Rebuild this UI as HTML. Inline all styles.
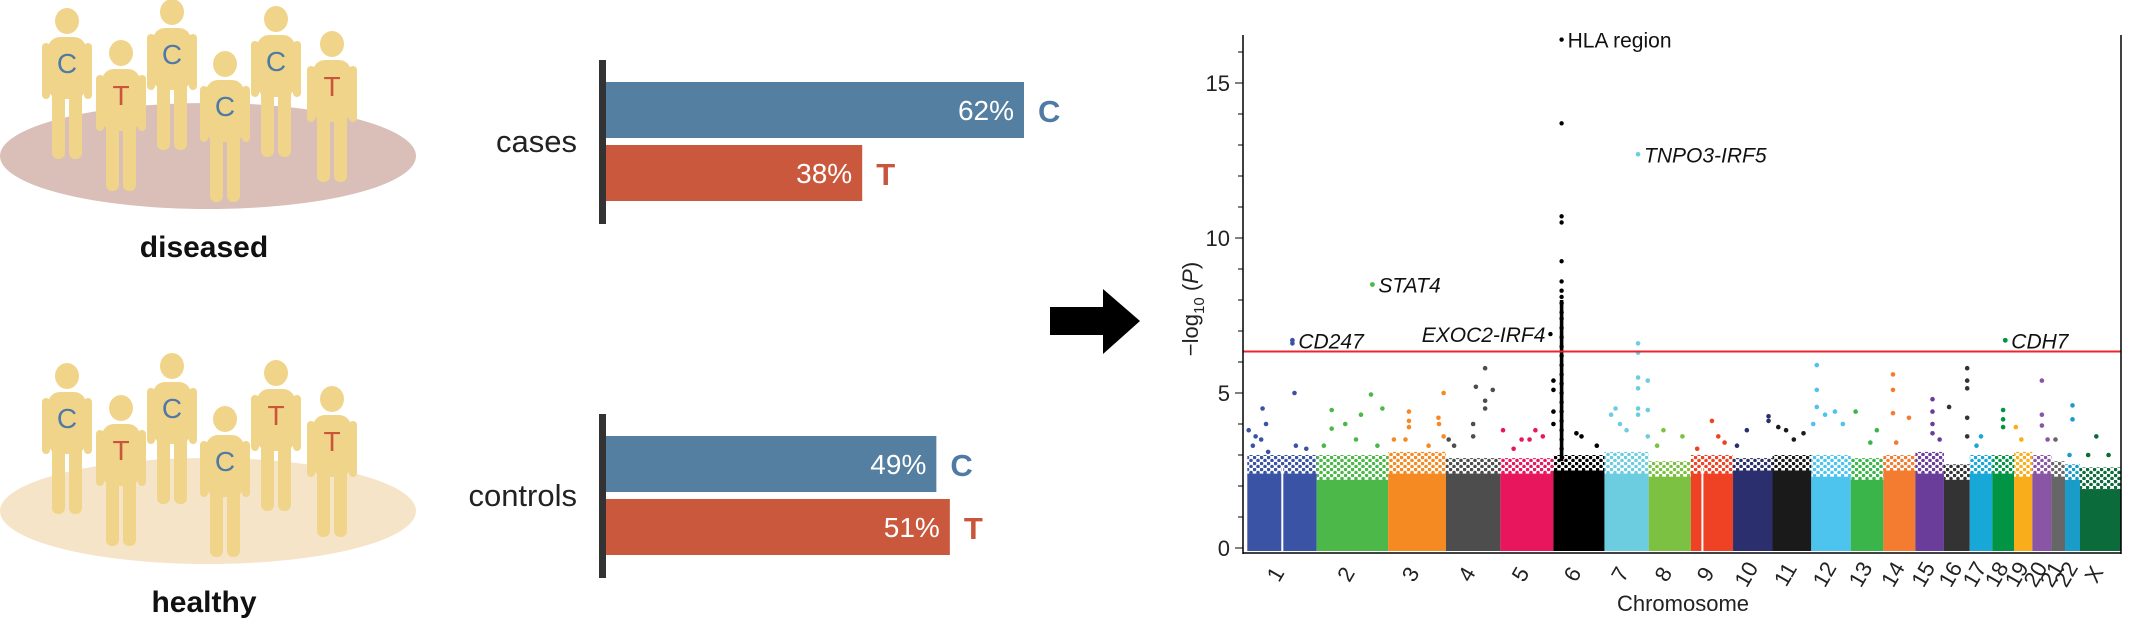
<!DOCTYPE html>
<html><head><meta charset="utf-8">
<style>
html,body{margin:0;padding:0;background:#fff;}
body{width:2130px;height:643px;overflow:hidden;position:relative;font-family:"Liberation Sans",sans-serif;}
svg{position:absolute;left:0;top:0;}
</style></head>
<body>
<svg id="fig" width="2130" height="643" viewBox="0 0 2130 643" xmlns="http://www.w3.org/2000/svg">
  <defs id="defs"></defs>
  <g id="people"></g>
  <text x="204" y="257" font-size="30" font-weight="bold" text-anchor="middle" fill="#111">diseased</text>
  <text x="204" y="612" font-size="30" font-weight="bold" text-anchor="middle" fill="#111">healthy</text>
  <g id="bars"></g>
  <g>
    <path d="M1050,307 H1103 V289 L1140,321 L1103,354 V335 H1050 Z" fill="#000"/>
  </g>
  <g id="manhattan"></g>
</svg>
<script>
// ---------- allele bar data ----------
const groups = ['cases','controls'];
const alleleC = [62, 49];
const alleleT = [38, 51];

// ---------- manhattan data ----------
const chromosomes = ['1','2','3','4','5','6','7','8','9','10','11','12','13','14','15','16','17','18','19','20','21','22','X'];
const chromLengths = [102,105,85,80,78,75,65,62,62,58,57,58,48,47,42,38,33,32,27,28,20,22,60];
const chromColors = ['#3a53a4','#4cb849','#f58a22','#4d4d4d','#e8175d','#000000','#6dcde0','#7dc143','#ef4123','#2b2f6e','#1a1a1a','#4cc4ee','#3ab54a','#f47c30','#6a3d9a','#333333','#18a8d8','#009444','#f9ad1b','#8a55a5','#666666','#1a9cc9','#0b6b3a'];
const solidTop = [2.4,2.2,2.4,2.4,2.4,2.5,2.4,2.3,2.4,2.5,2.5,2.3,2.2,2.5,2.4,2.2,2.4,2.4,2.3,2.4,2.3,2.2,1.9];
const fringeTop = [3.0,3.0,3.1,2.9,2.9,3.0,3.1,2.8,3.0,2.9,3.0,3.0,2.9,3.0,3.1,2.7,3.0,3.0,3.1,3.0,2.8,2.7,2.6];
// scatter points above the dense body: [chromosome index, fraction along chromosome, -log10 P]
const peakPoints = [
 [0,0.02,3.8],[0,0.12,3.6],[0,0.22,4.5],[0,0.27,4.0],[0,0.20,3.5],[0,0.65,6.6],[0,0.68,5.0],[0,0.70,3.3],[0,0.85,3.2],[0,0.30,3.1],[0,0.08,3.3],
 [1,0.21,4.45],[1,0.21,3.85],[1,0.40,4.0],[1,0.62,4.3],[1,0.76,4.95],[1,0.92,4.5],[1,0.55,3.5],[1,0.85,3.3],[1,0.10,3.3],
 [2,0.36,4.4],[2,0.36,4.1],[2,0.36,3.9],[2,0.30,3.5],[2,0.87,4.2],[2,0.88,4.0],[2,0.96,5.0],[2,0.96,3.6],[2,0.10,3.5],[2,0.70,3.3],
 [3,0.55,5.2],[3,0.72,5.8],[3,0.72,4.75],[3,0.72,4.5],[3,0.86,5.1],[3,0.50,4.0],[3,0.50,3.6],[3,0.05,3.5],[3,0.15,3.3],
 [4,0.05,3.8],[4,0.40,3.5],[4,0.55,3.5],[4,0.66,3.8],[4,0.80,3.6],[4,0.25,3.2],
 [5,0.00,5.4],[5,0.00,5.1],[5,0.00,4.4],[5,0.00,4.0],[5,0.45,3.7],[5,0.55,3.6],[5,0.85,3.3],
 [6,0.15,4.3],[6,0.25,4.5],[6,0.35,4.0],[6,0.50,3.8],[6,0.76,6.6],[6,0.76,6.3],[6,0.76,5.5],[6,0.76,5.15],[6,0.76,4.5],[6,0.76,4.3],[6,0.98,5.4],[6,0.98,4.45],[6,0.98,3.6],[6,0.76,12.7],
 [7,0.35,3.8],[7,0.80,3.6],[7,0.20,3.3],
 [8,0.50,4.1],[8,0.65,3.6],[8,0.80,3.4],[8,0.15,3.2],
 [9,0.10,3.3],[9,0.35,3.8],[9,0.90,4.25],[9,0.90,4.1],
 [10,0.15,3.9],[10,0.35,3.8],[10,0.80,3.7],[10,0.55,3.5],
 [11,0.14,5.9],[11,0.14,5.1],[11,0.14,4.55],[11,0.35,4.3],[11,0.60,4.4],[11,0.80,4.0],[11,0.05,4.0],
 [12,0.15,4.4],[12,0.80,3.8],[12,0.60,3.4],
 [13,0.30,5.6],[13,0.30,5.1],[13,0.30,4.35],[13,0.80,4.2],[13,0.40,3.4],
 [14,0.60,4.8],[14,0.60,4.4],[14,0.60,4.0],[14,0.60,3.7],[14,0.85,3.5],
 [15,0.20,4.55],[15,0.90,5.8],[15,0.90,5.4],[15,0.90,5.15],[15,0.90,4.2],[15,0.90,3.6],
 [16,0.30,3.3],[16,0.50,3.6],
 [17,0.60,6.7],[17,0.50,4.45],[17,0.50,4.15],[17,0.50,3.9],
 [18,0.10,3.9],[18,0.40,3.5],
 [19,0.50,5.4],[19,0.50,4.3],[19,0.50,3.95],[19,0.80,3.5],
 [20,0.30,3.5],
 [21,0.50,4.6],[21,0.50,4.15],[21,0.30,3.0],
 [22,0.40,3.6],[22,0.20,3.0],[22,0.70,3.0]
];
// HLA column on chromosome 6 (index 5)
const hlaColumn = [3.2,3.5,3.8,4.1,4.4,4.7,5.0,5.3,5.6,5.9,6.2,6.5,6.8,7.1,7.4,7.6,7.9,8.1,8.3,8.6,9.25,10.5,10.7,13.7,16.4];
const yTicks = [0,5,10,15];
const threshold = 6.34;
const annotations = [
 {text:'HLA region', chr:5, frac:0.16, val:16.4, italic:false, anchor:'start'},
 {text:'TNPO3-IRF5', chr:6, frac:0.76, val:12.7, italic:true, anchor:'start'},
 {text:'STAT4', chr:1, frac:0.78, val:8.5, italic:true, anchor:'start'},
 {text:'CD247', chr:0, frac:0.65, val:6.7, italic:true, anchor:'start'},
 {text:'EXOC2-IRF4', chr:5, frac:0.00, val:6.9, italic:true, anchor:'end'},
 {text:'CDH7', chr:17, frac:0.60, val:6.7, italic:true, anchor:'start'}
];

const NS='http://www.w3.org/2000/svg';
function mk(tag, attrs, parent){const e=document.createElementNS(NS,tag);for(const k in attrs)e.setAttribute(k,attrs[k]);parent.appendChild(e);return e;}

// ---------- people ----------
const peopleG=document.getElementById('people');
function drawGroup(cy, heads, letters, ellColor, name){
  const g=mk('g',{},peopleG);
  
  
  mk('ellipse',{cx:208,cy:cy,rx:208,ry:53,fill:ellColor},g);
  heads.forEach((h,i)=>{
    const p=mk('g',{transform:`translate(${h[0]},${h[1]})`},g);
    
    
    const col='#f0d48a';
    mk('ellipse',{cx:0,cy:0,rx:12,ry:13,fill:col},p);
    mk('rect',{x:-19,y:16,width:38,height:62,rx:12,fill:col},p);
    mk('rect',{x:-25,y:22,width:8,height:56,rx:4,fill:col},p);
    mk('rect',{x:17,y:22,width:8,height:56,rx:4,fill:col},p);
    mk('rect',{x:-15,y:70,width:13,height:68,rx:6,fill:col},p);
    mk('rect',{x:2,y:70,width:13,height:68,rx:6,fill:col},p);
    const t=mk('text',{x:0,y:52,'font-size':28,'text-anchor':'middle',fill:letters[i]==='C'?'#4f7aa5':'#c9553a'},p);
    t.textContent=letters[i];
  });
}
drawGroup(156,[[67,21],[121,53],[172,12],[225,64],[276,19],[332,44]],['C','T','C','C','C','T'],'#d9bfb8','diseased-population');
drawGroup(511,[[67,376],[121,408],[172,366],[225,419],[276,373],[332,399]],['C','T','C','C','T','T'],'#f5e4c8','healthy-population');

// ---------- bars ----------
const barsG=document.getElementById('bars');
const barX0=606, barPxPerPct=(1024-606)/62;
const groupTop=[60,414];
groups.forEach((gName,i)=>{
  const top=groupTop[i];
  const ax=mk('rect',{x:599,y:top,width:7,height:164,fill:'#333'},barsG);
  
  
  const lab=mk('text',{x:577,y:top+92,'font-size':31,'text-anchor':'end',fill:'#222'},barsG);
  
  
  lab.textContent=gName;
  [[alleleC[i],'C','#557fa0','#4f7aa5',top+22],[alleleT[i],'T','#c9583d','#c9553a',top+85]].forEach(b=>{
    const w=b[0]*barPxPerPct;
    const r=mk('rect',{x:barX0,y:b[4],width:w,height:56,fill:b[2]},barsG);
    
    
    const v=mk('text',{x:barX0+w-10,y:b[4]+38,'font-size':28,'text-anchor':'end',fill:'#fff'},barsG);
    
    
    v.textContent=b[0]+'%';
    const a=mk('text',{x:barX0+w+14,y:b[4]+40,'font-size':31,'font-weight':'bold',fill:b[3]},barsG);
    
    
    a.textContent=b[1];
  });
});

// ---------- manhattan ----------
const mg=document.getElementById('manhattan');
const defs=document.getElementById('defs');
const X0=1247.3, X1=2120.8, Y0=548, PXU=31;
const total=chromLengths.reduce((a,b)=>a+b,0);
const starts=[];let acc=0;chromLengths.forEach(l=>{starts.push(acc);acc+=l;});
function xs(c,f){return X0+(starts[c]+f*chromLengths[c])/total*(X1-X0);}
function ys(v){return Y0-v*PXU;}

chromosomes.forEach((c,i)=>{
  const pat=mk('pattern',{id:'pt'+i,width:7,height:6,patternUnits:'userSpaceOnUse'},defs);
  mk('circle',{cx:1.5,cy:1.5,r:1.8,fill:chromColors[i]},pat);
  mk('circle',{cx:5,cy:4.5,r:1.8,fill:chromColors[i]},pat);
  const xa=xs(i,0), xb=xs(i,1);
  const f=mk('rect',{x:xa,y:ys(fringeTop[i]),width:xb-xa,height:ys(solidTop[i])-ys(fringeTop[i])+1,fill:'url(#pt'+i+')'},mg);
  
  
  const r=mk('rect',{x:xa,y:ys(solidTop[i]),width:xb-xa,height:Y0-ys(solidTop[i])+3,fill:chromColors[i]},mg);
  
  
});
// centromere gaps
[[0,0.49],[8,0.25]].forEach(g=>{
  const r=mk('rect',{x:xs(g[0],g[1]),y:ys(2.6),width:2,height:ys(0)-ys(2.6)+3,fill:'#fff'},mg);
  
  
});
peakPoints.forEach(p=>{
  const c=mk('circle',{cx:xs(p[0],p[1]),cy:ys(p[2]),r:2.3,fill:chromColors[p[0]]},mg);
  
  
});
const hlaX=xs(5,0.16);
mk('rect',{x:hlaX-1.8,y:ys(8.0),width:3.6,height:ys(2.8)-ys(8.0),fill:'#000'},mg);
hlaColumn.forEach(v=>{
  const c=mk('circle',{cx:hlaX,cy:ys(v),r:2.2,fill:'#000'},mg);
  
  
});
// threshold
const th=mk('line',{x1:1243,x2:2121,y1:ys(threshold),y2:ys(threshold),stroke:'#e8262f','stroke-width':2},mg);


// axes
const axl=mk('line',{x1:1243,x2:1243,y1:35,y2:554,stroke:'#000','stroke-width':1.5},mg);


const axb=mk('line',{x1:1243,x2:2121,y1:553,y2:553,stroke:'#000','stroke-width':1.5},mg);


const axr=mk('line',{x1:2121,x2:2121,y1:35,y2:554,stroke:'#000','stroke-width':1.5},mg);


for(let v=0;v<=16;v++){
  const major=yTicks.includes(v);
  mk('line',{x1:1243-(major?8:5),x2:1243,y1:ys(v),y2:ys(v),stroke:'#000','stroke-width':1},mg);
}
yTicks.forEach(v=>{
  const t=mk('text',{x:1230,y:ys(v)+8,'font-size':22,'text-anchor':'end',fill:'#222'},mg);
  
  
  t.textContent=v;
});
chromosomes.forEach((c,i)=>{
  const cx=xs(i,0.5);
  const t=mk('text',{x:0,y:0,'font-size':22,'text-anchor':'middle',fill:'#222',transform:`translate(${cx},${578}) rotate(-60)`},mg);
  
  
  t.textContent=c;
});
const xt=mk('text',{x:1683,y:611,'font-size':22,'text-anchor':'middle',fill:'#222'},mg);


xt.textContent='Chromosome';
const yt=mk('text',{x:0,y:0,'font-size':22,'text-anchor':'middle',fill:'#222',transform:'translate(1198,309) rotate(-90)'},mg);


yt.innerHTML='\u2212log<tspan font-size="15" dy="6">10</tspan><tspan dy="-6"> (</tspan><tspan font-style="italic">P</tspan>)';
annotations.forEach(a=>{
  const px=xs(a.chr,a.frac);
  const dx=a.anchor==='start'?6:-8;
  const t=mk('text',{x:px+dx,y:ys(a.val)+8,'font-size':21,'text-anchor':a.anchor,fill:'#111','font-style':a.italic?'italic':'normal'},mg);
  
  
  t.textContent=a.text;
  if(a.anchor==='end'){mk('circle',{cx:px-3,cy:ys(a.val),r:2.2,fill:'#000'},mg);}
  else if(a.chr!==5 && a.chr!==6){mk('circle',{cx:px,cy:ys(a.val),r:2.4,fill:chromColors[a.chr]},mg);}
});
</script>
</body></html>
